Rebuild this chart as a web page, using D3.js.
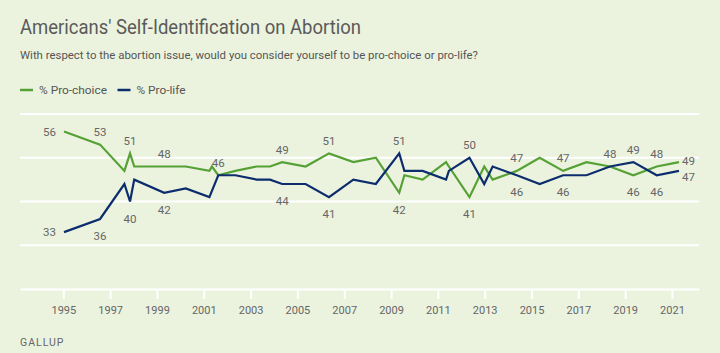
<!DOCTYPE html>
<html>
<head>
<meta charset="utf-8">
<script src="https://cdn.jsdelivr.net/npm/d3@7"></script>
<style>
  html, body { margin: 0; padding: 0; background: #ebf3de; }
  svg { display: block; font-family: Roboto, "Liberation Sans", sans-serif; }
</style>
</head>
<body>
<div id="wrapper"></div>
<script>
// poll dates (decimal years) and shares
const choiceYears = [1995.03, 1996.57, 1997.61, 1997.85, 1998.03, 1999.31, 2000.23, 2001.24, 2001.35, 2001.62,
    2002.35, 2003.26, 2003.83, 2004.35, 2005.35, 2006.35, 2007.39, 2008.35, 2009.35, 2009.57,
    2010.35, 2011.35, 2011.47, 2012.35, 2012.98, 2013.34, 2014.37, 2015.35, 2016.35, 2017.35,
    2018.35, 2019.35, 2020.35, 2021.3];
const choiceValues = [56, 53, 47, 51, 48, 48, 48, 47, 48, 46,
    47, 48, 48, 49, 48, 51, 49, 50, 42, 46,
    45, 49, 48, 41, 48, 45, 47, 50, 47, 49,
    48, 46, 48, 49];

const lifeYears = [1995.03, 1996.57, 1997.61, 1997.85, 1998.03, 1999.31, 2000.23, 2001.24, 2001.62,
    2002.35, 2003.26, 2003.83, 2004.35, 2005.35, 2006.35, 2007.39, 2008.35, 2009.35, 2009.57,
    2010.35, 2011.35, 2011.47, 2012.35, 2012.98, 2013.34, 2014.37, 2015.35, 2016.35, 2017.35,
    2018.35, 2019.35, 2020.35, 2021.3];
const lifeValues = [33, 36, 44, 40, 45, 42, 43, 41, 46,
    46, 45, 45, 44, 44, 41, 45, 44, 51, 47,
    47, 45, 47, 50, 44, 48, 46, 44, 46, 46,
    48, 49, 46, 47];

// which points carry a value label
const choiceLabelYears = [1995.03, 1996.57, 1997.85, 1999.31, 2001.62, 2004.35, 2006.35, 2009.35, 2012.35,
    2014.37, 2016.35, 2018.35, 2019.35, 2020.35, 2021.3];
const lifeLabelYears = [1995.03, 1996.57, 1997.85, 1999.31, 2004.35, 2006.35, 2009.35, 2012.35,
    2014.37, 2016.35, 2019.35, 2020.35, 2021.3];

const tickYears = [1995, 1997, 1999, 2001, 2003, 2005, 2007, 2009, 2011, 2013, 2015, 2017, 2019, 2021];
const gridValues = [30, 40, 50, 60];

const seriesNames = ["% Pro-choice", "% Pro-life"];
const seriesColors = ["#55a135", "#0d2c6e"];

const width = 720, height = 353;

const svg = d3.select("#wrapper").append("svg")
    .attr("width", width)
    .attr("height", height);

svg.append("rect").attr("width", width).attr("height", height).attr("fill", "#ebf3de");

const x = d3.scaleLinear().domain([1993.15, 2022.155]).range([20, 699]);
const y = d3.scaleLinear().domain([20, 60]).range([289, 114]);

// title block
svg.append("text")
    .attr("x", 20).attr("y", 34)
    .attr("textLength", 341).attr("lengthAdjust", "spacingAndGlyphs")
    .style("font-size", "19.5px").attr("fill", "#5a5a5a")
    .text("Americans' Self-Identification on Abortion");

svg.append("text")
    .attr("x", 20).attr("y", 59)
    .attr("textLength", 458).attr("lengthAdjust", "spacingAndGlyphs")
    .style("font-size", "11px").attr("fill", "#555")
    .text("With respect to the abortion issue, would you consider yourself to be pro-choice or pro-life?");

// legend
const legendX = [20, 117.5];
const legendW = [68, 49];
seriesNames.forEach((name, i) => {
    svg.append("line")
        .attr("x1", legendX[i]).attr("x2", legendX[i] + 13)
        .attr("y1", 90).attr("y2", 90)
        .attr("stroke", seriesColors[i]).attr("stroke-width", 2.5);
    svg.append("text")
        .attr("x", legendX[i] + 19).attr("y", 94)
        .attr("textLength", legendW[i]).attr("lengthAdjust", "spacingAndGlyphs")
        .style("font-size", "11px").attr("fill", "#555")
        .text(name);
});

// gridlines
svg.append("g").selectAll("line")
    .data(gridValues)
    .enter().append("line")
    .attr("x1", x.range()[0]).attr("x2", x.range()[1])
    .attr("y1", d => y(d)).attr("y2", d => y(d))
    .attr("stroke", "#fff").attr("stroke-width", 2);

// x axis
const xAxis = svg.append("g")
    .attr("transform", `translate(0,${y(20)})`)
    .call(d3.axisBottom(x).tickValues(tickYears).tickFormat(d3.format("d")).tickSize(10).tickSizeOuter(0));
xAxis.select(".domain").attr("stroke", "#fff").attr("stroke-width", 2);
xAxis.selectAll(".tick line").attr("stroke", "#fff").attr("stroke-width", 2);
xAxis.selectAll(".tick text")
    .attr("y", 17)
    .style("font-size", "11px")
    .style("font-family", "Roboto, sans-serif")
    .attr("fill", "#666");

// lines
const line = d3.line().x(d => x(d[0])).y(d => y(d[1]));
const series = [
    d3.zip(choiceYears, choiceValues),
    d3.zip(lifeYears, lifeValues)
];
series.forEach((pts, i) => {
    svg.append("path")
        .datum(pts)
        .attr("fill", "none")
        .attr("stroke", seriesColors[i])
        .attr("stroke-width", 2.2)
        .attr("d", line);
});

// value labels
const labelYears = [choiceLabelYears, lifeLabelYears];
const labels = svg.append("g")
    .style("font-size", "11.5px")
    .attr("fill", "#666");

labelYears.forEach((years, i) => {
    const pts = series[i];
    const other = series[1 - i];
    years.forEach(yr => {
        const p = pts.find(d => d[0] === yr);
        const o = other.find(d => d[0] === yr);
        const first = yr === pts[0][0];
        const last = yr === pts[pts.length - 1][0];
        const t = labels.append("text").text(p[1]);
        if (first) {
            t.attr("x", x(p[0]) - 8).attr("y", y(p[1]) + 4).attr("text-anchor", "end");
        } else if (last) {
            t.attr("x", x(p[0]) + 3).attr("y", y(p[1]) + (i === 0 ? 3 : 10));
        } else {
            const above = !o || p[1] >= o[1];
            t.attr("x", x(p[0])).attr("text-anchor", "middle")
                .attr("y", above ? y(p[1]) - 8.5 : y(p[1]) + 21);
        }
    });
});

// source
svg.append("text")
    .attr("x", 20).attr("y", 346)
    .style("font-size", "10.5px")
    .style("letter-spacing", "1px")
    .attr("fill", "#666")
    .text("GALLUP");
</script>
</body>
</html>
